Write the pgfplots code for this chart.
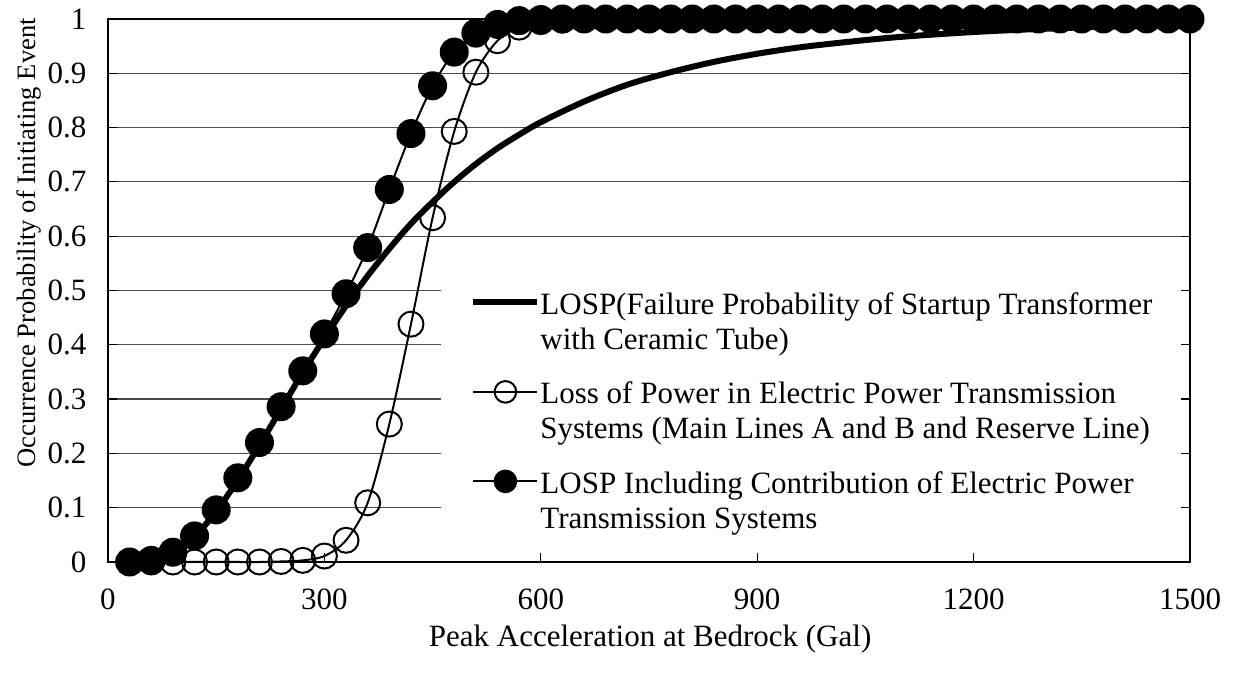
\documentclass[border=0pt]{standalone}
\usepackage{fontspec}
\setmainfont{Liberation Serif}
\usepackage{pgfplots}
\pgfplotsset{compat=1.18}
\newcommand{\ff}{\fontsize{15.5}{17.5}\selectfont}
\newcommand{\leg}[2]{\begin{tabular}[t]{@{}l@{}}\makebox[306pt][l]{#1}\\#2\end{tabular}}
\begin{document}
\begin{tikzpicture}
\useasboundingbox (-54pt,-58.5pt) rectangle (564.5pt,281pt);
\begin{axis}[
  at={(0pt,0pt)}, anchor=south west,
  scale only axis, width=541pt, height=271.5pt,
  xmin=0, xmax=1500, ymin=0, ymax=1,
  xtick={0,300,600,900,1200,1500},
  ytick={0,0.1,0.2,0.3,0.4,0.5,0.6,0.7,0.8,0.9,1},
  /pgf/number format/assume math mode=true,
  /pgf/number format/1000 sep={},
  ymajorgrids,
  major grid style={draw=black!70, line width=0.6pt},
  axis line style={line width=1.1pt},
  tick align=inside,
  major tick length=4.5pt,
  xtick pos=lower,
  tick style={black, line width=0.6pt},
  ticklabel style={font=\ff},
  xticklabel style={yshift=-10pt},
  yticklabel style={xshift=-7.3pt},
  xlabel={Peak Acceleration at Bedrock (Gal)},
  ylabel={Occurrence Probability of Initiating Event},
  xlabel style={font=\ff, at={(axis description cs:0.501,-0.142)}, anchor=center},
  ylabel style={font=\fontsize{13.3}{15}\selectfont, at={(axis description cs:-0.073,0.588)}, anchor=center},
  clip=false,
  legend style={at={(rel axis cs:0.3078,0.5424)}, anchor=north west, draw=none, fill=white,
    font=\ff, inner xsep=14.5pt, inner ysep=9pt, row sep=27pt,
    nodes={inner xsep=0pt},
    cells={anchor=base west},
    /tikz/every odd column/.append style={column sep=0pt}},
  legend image code/.code={\draw[mark repeat=2,mark phase=2,#1,mark size=5.4pt] plot coordinates {(0pt,6pt) (16pt,6pt) (32pt,6pt)};},
]
\addplot[black, line width=3pt, smooth] coordinates {
(30,0.0) (60,0.003) (90,0.017) (120,0.047) (150,0.093) (180,0.151) (210,0.215)
(240,0.282) (270,0.349) (300,0.412) (330,0.472) (360,0.527) (390,0.577) (420,0.623)
(450,0.663) (480,0.700) (510,0.733) (540,0.762) (570,0.787) (600,0.810) (660,0.848)
(720,0.879) (780,0.902) (840,0.921) (900,0.936) (960,0.948) (1020,0.957) (1080,0.965)
(1140,0.971) (1200,0.976) (1260,0.980) (1320,0.983) (1380,0.986) (1440,0.988) (1500,0.990)
};
\addlegendentry{\leg{LOSP(Failure Probability of Startup Transformer}{with Ceramic Tube)}}
\addplot[black, line width=1pt, smooth, mark=o, mark size=6.25pt, mark options={line width=1pt}] coordinates {
(30,0) (60,0) (90,0) (120,0) (150,0) (180,0) (210,0) (240,0.001) (270,0.003) (300,0.011)
(330,0.040) (360,0.109) (390,0.254) (420,0.438) (450,0.634) (480,0.793) (510,0.902)
(540,0.960) (570,0.985) (600,0.995) (630,0.998) (660,1) (690,1) (720,1) (750,1) (780,1)
(810,1) (840,1) (870,1) (900,1) (930,1) (960,1) (990,1) (1020,1) (1050,1) (1080,1)
(1110,1) (1140,1) (1170,1) (1200,1) (1230,1) (1260,1) (1290,1) (1320,1) (1350,1)
(1380,1) (1410,1) (1440,1) (1470,1) (1500,1)
};
\addlegendentry{\leg{Loss of Power in Electric Power Transmission}{Systems (Main Lines A and B and Reserve Line)}}
\addplot[black, line width=1pt, smooth, mark=*, mark size=6.75pt, mark options={fill=black}] coordinates {
(30,0) (60,0.003) (90,0.018) (120,0.048) (150,0.096) (180,0.155) (210,0.220) (240,0.286)
(270,0.352) (300,0.420) (330,0.494) (360,0.579) (390,0.686) (420,0.789) (450,0.877)
(480,0.939) (510,0.974) (540,0.990) (570,0.997) (600,0.999) (630,1) (660,1) (690,1)
(720,1) (750,1) (780,1) (810,1) (840,1) (870,1) (900,1) (930,1) (960,1) (990,1) (1020,1)
(1050,1) (1080,1) (1110,1) (1140,1) (1170,1) (1200,1) (1230,1) (1260,1) (1290,1)
(1320,1) (1350,1) (1380,1) (1410,1) (1440,1) (1470,1) (1500,1)
};
\addlegendentry{\leg{LOSP Including Contribution of Electric Power}{Transmission Systems}}
\end{axis}
\end{tikzpicture}
\end{document}
